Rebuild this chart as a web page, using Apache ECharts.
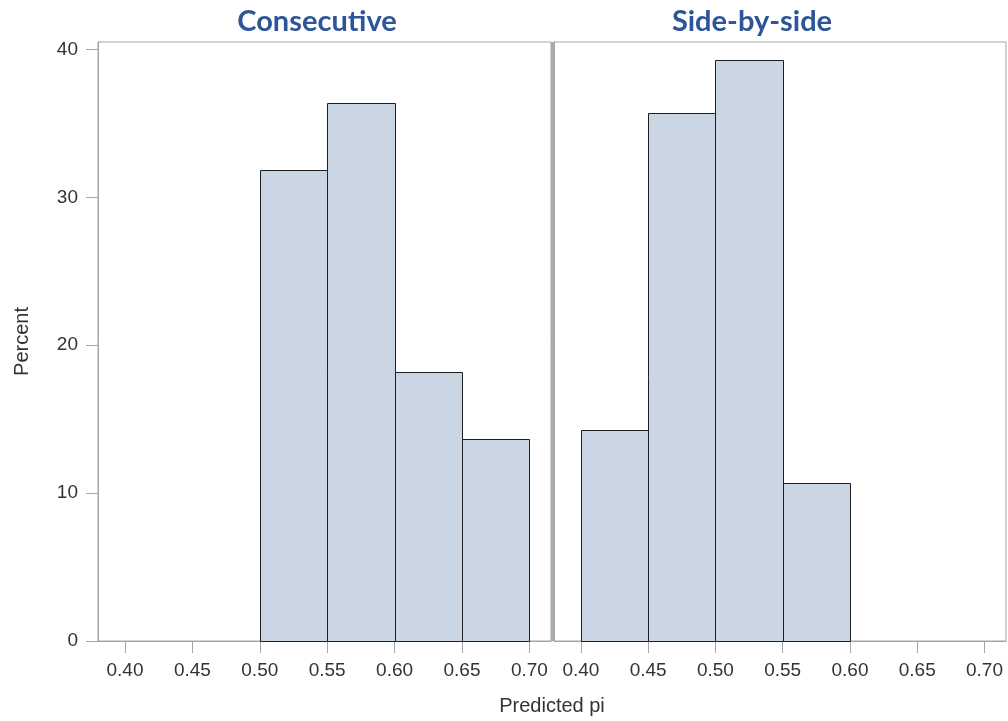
<!DOCTYPE html>
<html>
<head>
<meta charset="utf-8">
<script src="https://cdn.jsdelivr.net/npm/echarts@6/dist/echarts.min.js"></script>
<style>
  html, body { margin: 0; padding: 0; background: #ffffff; }
  #chart { width: 1008px; height: 721px; }
</style>
</head>
<body>
<div id="chart"></div>
<script>
// Histogram bins: left edge of each bin and the percent of runs falling in it
const binWidth = 0.05;
const consecutiveBins = [0.50, 0.55, 0.60, 0.65];
const consecutivePct  = [31.82, 36.36, 18.18, 13.64];
const sideBySideBins  = [0.40, 0.45, 0.50, 0.55];
const sideBySidePct   = [14.29, 35.71, 39.29, 10.71];

// Tick labels
const xTicks = [0.40, 0.45, 0.50, 0.55, 0.60, 0.65, 0.70];
const yTicks = [0, 10, 20, 30, 40];
const panelTitles = ['Consecutive', 'Side-by-side'];

const axisGray = '#A2A6AA';
const textColor = '#333333';
const fillColor = '#CBD6E5';
const edgeColor = '#1E1E1E';

function binData(starts, values) {
  return starts.map((s, i) => [s, s + binWidth, values[i]]);
}

function renderBin(params, api) {
  const x0 = api.value(0), x1 = api.value(1), v = api.value(2);
  const topLeft = api.coord([x0, v]);
  const bottomRight = api.coord([x1, 0]);
  return {
    type: 'rect',
    shape: {
      x: Math.round(topLeft[0]) + 0.5,
      y: Math.round(topLeft[1]) + 0.5,
      width: Math.round(bottomRight[0]) - Math.round(topLeft[0]),
      height: Math.round(bottomRight[1]) - Math.round(topLeft[1])
    },
    style: { fill: fillColor, stroke: edgeColor, lineWidth: 1 }
  };
}

function xAxisFor(gridIndex) {
  return {
    type: 'value', gridIndex: gridIndex,
    min: 0.38, max: 0.716,
    axisLine: { show: true, lineStyle: { color: axisGray, width: 1 } },
    axisTick: { show: true, length: 12, customValues: xTicks, lineStyle: { color: axisGray } },
    axisLabel: {
      customValues: xTicks, margin: 20,
      formatter: v => v.toFixed(2),
      color: textColor, fontFamily: 'Liberation Sans', fontSize: 19
    },
    splitLine: { show: false }
  };
}

function yAxisFor(gridIndex, withLabels) {
  return {
    type: 'value', gridIndex: gridIndex,
    min: 0, max: 40.5,
    name: withLabels ? 'Percent' : '',
    nameLocation: 'middle', nameRotate: 90, nameGap: 66,
    nameTextStyle: { color: textColor, fontFamily: 'Liberation Sans', fontSize: 20 },
    axisLine: { show: true, lineStyle: { color: axisGray, width: 1 } },
    axisTick: { show: withLabels, length: 12, customValues: yTicks, lineStyle: { color: axisGray } },
    axisLabel: {
      show: withLabels, customValues: yTicks, margin: 20,
      color: textColor, fontFamily: 'Liberation Sans', fontSize: 19
    },
    splitLine: { show: false }
  };
}

const chart = echarts.init(document.getElementById('chart'), null, { renderer: 'canvas' });

chart.setOption({
  animation: false,
  backgroundColor: '#ffffff',
  grid: [
    { left: 98, top: 42, width: 453, height: 599, show: true, borderColor: axisGray, borderWidth: 1, backgroundColor: 'transparent' },
    { left: 554, top: 42, width: 452, height: 599, show: true, borderColor: axisGray, borderWidth: 1, backgroundColor: 'transparent' }
  ],
  xAxis: [xAxisFor(0), xAxisFor(1)],
  yAxis: [yAxisFor(0, true), yAxisFor(1, false)],
  series: [
    { type: 'custom', xAxisIndex: 0, yAxisIndex: 0, renderItem: renderBin, data: binData(consecutiveBins, consecutivePct), encode: { x: [0, 1], y: 2 } },
    { type: 'custom', xAxisIndex: 1, yAxisIndex: 1, renderItem: renderBin, data: binData(sideBySideBins, sideBySidePct), encode: { x: [0, 1], y: 2 } }
  ],
  graphic: [
    // divider between the two panels
    { type: 'rect', shape: { x: 551, y: 42, width: 4, height: 599 }, style: { fill: '#A7ABAF' }, z: 10 },
    { type: 'text', x: 317, y: 22, style: { text: panelTitles[0], fill: '#2E5597', font: 'bold 29px Lato', textAlign: 'center', textVerticalAlign: 'middle' } },
    { type: 'text', x: 752, y: 22, style: { text: panelTitles[1], fill: '#2E5597', font: 'bold 29px Lato', textAlign: 'center', textVerticalAlign: 'middle' } },
    { type: 'text', x: 552, y: 706, style: { text: 'Predicted pi', fill: textColor, font: '20px "Liberation Sans"', textAlign: 'center', textVerticalAlign: 'middle' } }
  ]
});
</script>
</body>
</html>
